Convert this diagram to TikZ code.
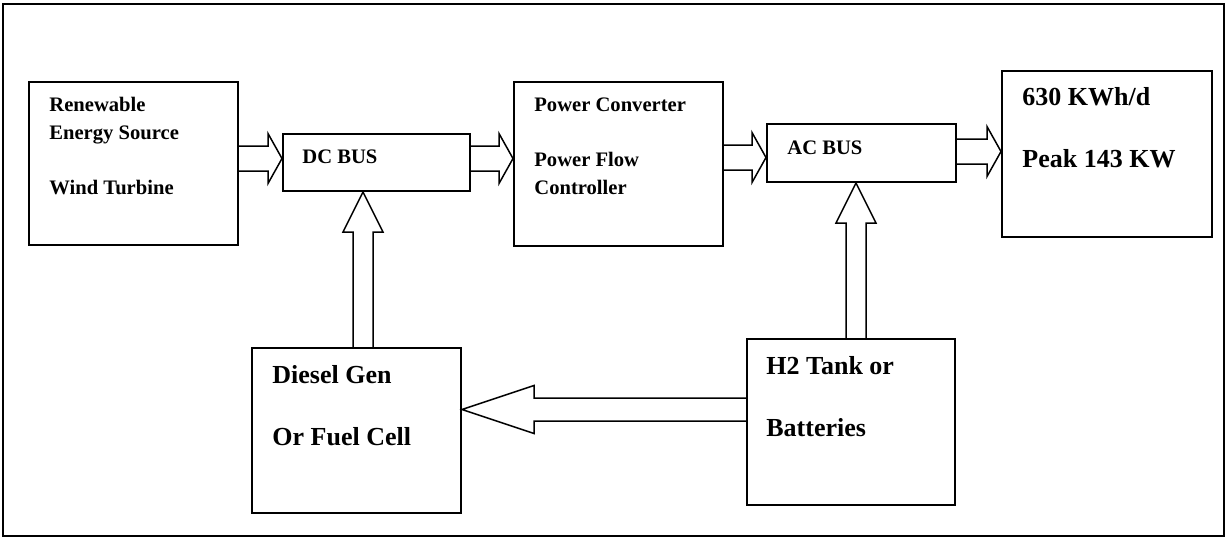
\documentclass[tikz,border=0pt]{standalone}
\usepackage{fontspec}
\setmainfont{Liberation Serif}
\usetikzlibrary{calc}

\begin{document}
\begin{tikzpicture}[
  x=0.5pt, y=-0.5pt,
  box/.style={draw, line width=1pt, inner sep=0pt},
  small/.style={font=\fontsize{10.3}{13.75}\selectfont\bfseries, align=left, inner sep=0pt, anchor=base west},
  big/.style={font=\fontsize{13}{15.5}\selectfont\bfseries, align=left, inner sep=0pt, anchor=base west},
  blockarrow/.style args={#1/#2/#3}{draw, line width=0.75pt, line join=miter,
    to path={let \p1=($(\tikztotarget)!#3!(\tikztostart)$) in
      ($(\tikztostart)!#1!90:(\tikztotarget)$) -- ($(\p1)!#1!90:(\tikztotarget)$)
      -- ($(\p1)!#2!90:(\tikztotarget)$) -- (\tikztotarget)
      -- ($(\p1)!#2!-90:(\tikztotarget)$) -- ($(\p1)!#1!-90:(\tikztotarget)$)
      -- ($(\tikztostart)!#1!-90:(\tikztotarget)$)}},
  hflow/.style={blockarrow=6.25pt/12.5pt/7pt},
  vflow/.style={blockarrow=5pt/10pt/20pt},
]
\useasboundingbox (0,0) rectangle (1227,538);
\draw[line width=0.75pt] (3,4) rectangle (1224,536);

% --- top row ---
\node[box, minimum width=104.5pt, minimum height=81.5pt] (res) at (133.5,163.5) {};
\node[small] (restext) at ([xshift=10.5pt, yshift=-56.5pt]res.north west) {Renewable\\Energy Source\\[13.75pt]Wind Turbine};

\node[box, minimum width=93.5pt, minimum height=28.5pt] (dcbus) at (376.5,162.5) {};
\node[small] (dctext) at ([xshift=10pt, yshift=-15pt]dcbus.north west) {DC BUS};

\node[box, minimum width=104.5pt, minimum height=82pt] (conv) at (618.5,164) {};
\node[small] (convtext) at ([xshift=10.5pt, yshift=-56.5pt]conv.north west) {Power Converter\\[13.75pt]Power Flow\\Controller};

\node[box, minimum width=94.5pt, minimum height=29pt] (acbus) at (861.5,153) {};
\node[small] (actext) at ([xshift=10.5pt, yshift=-15.5pt]acbus.north west) {AC BUS};

\node[box, minimum width=105pt, minimum height=83pt] (load) at (1107,154) {};
\node[big] (loadtext) at ([xshift=10.5pt, yshift=-48.5pt]load.north west) {630 KWh/d\\[15.5pt]Peak 143 KW};

% --- bottom row ---
\node[box, minimum width=104.5pt, minimum height=82.5pt] (diesel) at (356.5,430.5) {};
\node[big] (dieseltext) at ([xshift=10.5pt, yshift=-49pt]diesel.north west) {Diesel Gen\\[15.5pt]Or Fuel Cell};

\node[box, minimum width=104pt, minimum height=83pt] (htank) at (851,422) {};
\node[big] (htanktext) at ([xshift=10pt, yshift=-49pt]htank.north west) {H2 Tank or\\[15.5pt]Batteries};

% --- power flow ---
\draw[hflow] ([yshift=2.5pt]res.east) to ([yshift=2pt]dcbus.west);
\draw[hflow] ([yshift=2pt]dcbus.east) to ([yshift=2.75pt]conv.west);
\draw[hflow] ([yshift=3.25pt]conv.east) to ([yshift=-2.25pt]acbus.west);
\draw[hflow] ([yshift=0.75pt]acbus.east) to ([yshift=1.25pt]load.west);
\draw[vflow] ([xshift=3.25pt]diesel.north) to ([xshift=-6.75pt]dcbus.south);
\draw[vflow] ([xshift=2.5pt]htank.north) to ([xshift=-2.75pt]acbus.south);
\draw[blockarrow=5.75pt/12pt/36pt] ([yshift=6.25pt]htank.west) to ([yshift=10.5pt]diesel.east);
\end{tikzpicture}
\end{document}
